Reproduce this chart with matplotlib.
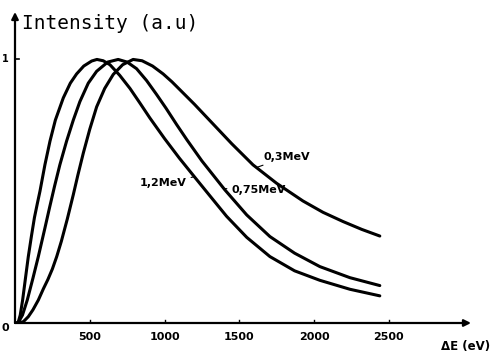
import matplotlib
matplotlib.use("Agg")
import matplotlib.pyplot as plt

# Data (energy loss in eV, normalised intensity)
e_12 = [20, 35, 51, 70, 89, 110, 130, 150, 167, 200, 234, 270, 323, 370, 412, 460,
        513, 548, 590, 635, 700, 769, 835, 902, 1000, 1100, 1214, 1300, 1415, 1550,
        1705, 1870, 2039, 2240, 2440]
i_12 = [0.0, 0.03, 0.087, 0.17, 0.252, 0.33, 0.40, 0.455, 0.50, 0.60, 0.69, 0.77,
        0.854, 0.91, 0.945, 0.975, 0.994, 1.0, 0.995, 0.98, 0.94, 0.89, 0.835, 0.778,
        0.70, 0.625, 0.545, 0.485, 0.405, 0.325, 0.252, 0.198, 0.162, 0.128, 0.103]

e_075 = [20, 50, 82, 120, 156, 200, 232, 265, 300, 345, 390, 434, 490, 546, 620, 690,
         750, 813, 880, 947, 1010, 1081, 1150, 1250, 1404, 1550, 1705, 1870, 2039,
         2240, 2440]
i_075 = [0.0, 0.03, 0.087, 0.17, 0.252, 0.36, 0.44, 0.52, 0.60, 0.69, 0.77, 0.84,
         0.91, 0.955, 0.99, 1.0, 0.99, 0.965, 0.92, 0.867, 0.815, 0.753, 0.695, 0.615,
         0.505, 0.41, 0.328, 0.265, 0.214, 0.172, 0.142]

e_03 = [20, 56, 89, 120, 156, 190, 220, 250, 279, 310, 350, 390, 420, 457, 500, 546,
        600, 657, 720, 790, 850, 920, 991, 1050, 1103, 1200, 1300, 1450, 1592, 1750,
        1926, 2060, 2194, 2320, 2440]
i_03 = [0.0, 0.005, 0.024, 0.05, 0.087, 0.13, 0.165, 0.205, 0.252, 0.31, 0.395, 0.487,
        0.56, 0.645, 0.735, 0.82, 0.89, 0.943, 0.98, 1.0, 0.995, 0.975, 0.945, 0.915,
        0.885, 0.83, 0.77, 0.68, 0.60, 0.53, 0.463, 0.42, 0.385, 0.355, 0.33]

x_ticks = [500, 1000, 1500, 2000, 2500]
x_tick_labels = ["500", "1000", "1500", "2000", "2500"]
curve_labels = ["1,2MeV", "0,75MeV", "0,3MeV"]

fig = plt.figure(figsize=(4.95, 3.53), dpi=100)
ax = fig.add_axes([15 / 495, 30 / 353, 456 / 495, 311 / 353])
ax.set_xlim(0, 3050)
ax.set_ylim(0, 1.18)
for s in ax.spines.values():
    s.set_visible(False)
ax.set_xticks([])
ax.set_yticks([])

lw = 2.2
for e, i in ((e_12, i_12), (e_075, i_075), (e_03, i_03)):
    ax.plot([0] + e, [0] + i, color="black", lw=lw, solid_capstyle="round",
            solid_joinstyle="round")

# axes with arrows
ax.annotate("", xy=(3050, 0), xytext=(0, 0),
            arrowprops=dict(arrowstyle="-|>", color="black", lw=1.6,
                            mutation_scale=10, shrinkA=0, shrinkB=0))
ax.annotate("", xy=(0, 1.18), xytext=(0, 0),
            arrowprops=dict(arrowstyle="-|>", color="black", lw=1.6,
                            mutation_scale=10, shrinkA=0, shrinkB=0))

# tick marks
for xt, lab in zip(x_ticks, x_tick_labels):
    ax.plot([xt, xt], [0, 0.012], color="black", lw=1)
    ax.text(xt, -0.035, lab, ha="center", va="top", fontsize=8,
            fontweight="bold", family="DejaVu Sans")
ax.plot([0, 25], [1, 1], color="black", lw=1.2)
ax.text(-40, 1.0, "1", ha="right", va="center", fontsize=7, fontweight="bold")
ax.text(-40, -0.02, "0", ha="right", va="center", fontsize=8, fontweight="bold")

ax.text(45, 1.10, "Intensity (a.u)", ha="left", va="bottom", fontsize=14,
        family="DejaVu Sans Mono")
ax.text(2850, -0.065, "ΔE (eV)", ha="left", va="top", fontsize=8.5,
        fontweight="bold", clip_on=False)

# curve labels with leader lines
ax.annotate(curve_labels[0], xy=(1200, 0.555), xytext=(1150, 0.53),
            ha="right", va="center", fontsize=8, fontweight="bold",
            arrowprops=dict(arrowstyle="-", color="black", lw=0.8,
                            shrinkA=1, shrinkB=0))
ax.annotate(curve_labels[1], xy=(1395, 0.51), xytext=(1445, 0.506),
            ha="left", va="center", fontsize=8, fontweight="bold",
            arrowprops=dict(arrowstyle="-", color="black", lw=0.8,
                            shrinkA=1, shrinkB=0))
ax.annotate(curve_labels[2], xy=(1615, 0.59), xytext=(1660, 0.63),
            ha="left", va="center", fontsize=8, fontweight="bold",
            arrowprops=dict(arrowstyle="-", color="black", lw=0.8,
                            shrinkA=1, shrinkB=0))

fig.savefig("out.png", dpi=100)
